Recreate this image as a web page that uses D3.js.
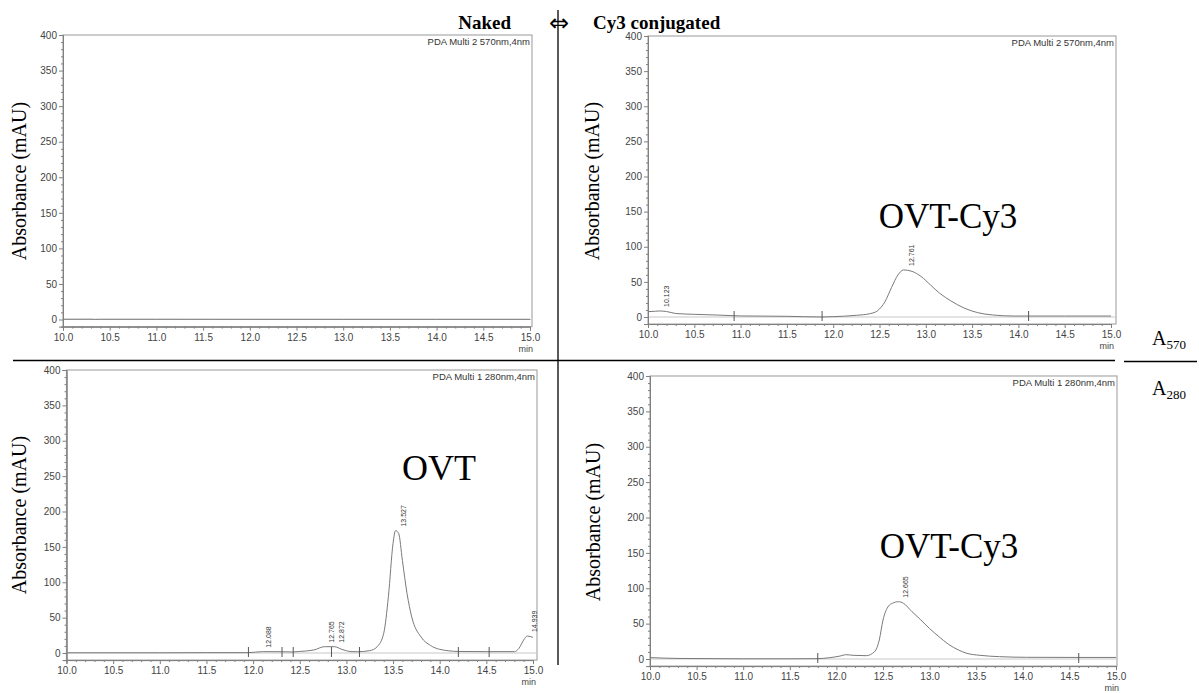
<!DOCTYPE html>
<html>
<head>
<meta charset="utf-8">
<script src="https://cdn.jsdelivr.net/npm/d3@7"></script>
<style>
  body { margin: 0; background: #fff; }
  svg { display: block; }
  .tick text { font-family: "Liberation Sans", Arial, sans-serif; font-size: 10px; fill: #444; }
  .serif { font-family: "Liberation Serif", "Times New Roman", serif; fill: #000; }
</style>
</head>
<body>
<svg id="chart" width="1199" height="693"></svg>
<script>
// tick values shared by all four chromatograms
const xTicks = [10.0, 10.5, 11.0, 11.5, 12.0, 12.5, 13.0, 13.5, 14.0, 14.5, 15.0];
const yTicks = [0, 50, 100, 150, 200, 250, 300, 350, 400];

// [retention time (min), absorbance (mAU)]
const naked570 = [[10.0, 0.4], [10.3, 0.5], [10.35, 0.2], [10.4, 0.4], [11.0, 0.4], [12.0, 0.3], [13.0, 0.3], [14.0, 0.3], [15.0, 0.3]];
const cy3_570 = [[10.0, 7.6], [10.08, 8.2], [10.12, 8.6], [10.2, 7.8], [10.3, 5.0], [10.5, 3.8], [10.75, 2.8], [11.0, 1.5],
  [11.5, 1.0], [11.88, 0.0], [12.0, 0.5], [12.25, 2.4], [12.4, 4.8], [12.48, 9], [12.56, 22], [12.63, 42], [12.7, 60],
  [12.76, 67], [12.85, 65], [12.95, 57.6], [13.05, 45.7], [13.15, 33.8], [13.27, 23], [13.42, 12.4], [13.56, 6.2],
  [13.72, 2.9], [13.95, 1.4], [14.11, 1.4], [14.5, 1.4], [15.0, 1.4]];
const naked280 = [[10.0, 0.3], [11.0, 0.3], [11.5, 0.5], [11.95, 0.5], [12.1, 1.9], [12.3, 1.8], [12.42, 1.5], [12.5, 2.2],
  [12.65, 4.2], [12.765, 8.9], [12.872, 8.9], [12.95, 5.2], [13.05, 2.0], [13.12, 1.8], [13.25, 3.3], [13.33, 8.9],
  [13.4, 27.8], [13.45, 79.6], [13.5, 155], [13.527, 173], [13.56, 169], [13.6, 131], [13.65, 84], [13.7, 51],
  [13.8, 22.6], [13.9, 10.8], [14.0, 5.2], [14.2, 2.2], [14.5, 1.9], [14.8, 1.9], [14.85, 6.6], [14.9, 18.4],
  [14.939, 24], [15.0, 22]];
const cy3_280 = [[10.0, 2.0], [10.3, 0.8], [11.0, 0.3], [11.5, 0.3], [11.8, 0.5], [11.93, 1.9], [12.04, 4.2], [12.1, 6.1],
  [12.18, 5.2], [12.32, 4.7], [12.41, 10.4], [12.46, 26.9], [12.5, 55], [12.56, 75], [12.6, 78.7], [12.665, 81],
  [12.72, 78.7], [12.81, 67], [12.9, 56], [13.0, 43], [13.1, 31.6], [13.2, 21], [13.31, 12.7], [13.4, 8], [13.54, 5.2],
  [13.75, 3.3], [14.04, 2.4], [14.6, 2.2], [15.0, 2.2]];

// labelled peaks [time, height] and integration marks (time)
const cy3_570Peaks = [[10.123, 8.6], [12.761, 67]];
const naked280Peaks = [[12.088, 1.9], [12.765, 8.9], [12.872, 8.9], [13.527, 173], [14.939, 24]];
const cy3_280Peaks = [[12.665, 81]];
const cy3_570Marks = [10.93, 11.88, 14.11];
const naked280Marks = [11.95, 12.31, 12.43, 12.84, 13.14, 14.2, 14.53];
const cy3_280Marks = [11.8, 14.6];

const svg = d3.select("#chart");

// panel layout in pixels
const panels = [
  { data: naked570, peaks: [], marks: [], pda: "PDA Multi 2 570nm,4nm",
    x0: 63, x1: 530, yTop: 35, yZero: 319.5, frameR: 532, ylabX: 26, ylabY: 181 },
  { data: cy3_570, peaks: cy3_570Peaks, marks: cy3_570Marks, pda: "PDA Multi 2 570nm,4nm",
    x0: 648, x1: 1111, yTop: 36, yZero: 317, frameR: 1116, ylabX: 599, ylabY: 181 },
  { data: naked280, peaks: naked280Peaks, marks: naked280Marks, pda: "PDA Multi 1 280nm,4nm",
    x0: 66.5, x1: 533, yTop: 370, yZero: 653, frameR: 537, ylabX: 26, ylabY: 515 },
  { data: cy3_280, peaks: cy3_280Peaks, marks: cy3_280Marks, pda: "PDA Multi 1 280nm,4nm",
    x0: 650, x1: 1116, yTop: 376, yZero: 659, frameR: 1117, ylabX: 600, ylabY: 522 }
];

panels.forEach(p => {
  const yBottom = p.yZero + (p.yZero - p.yTop) / 40;
  const x = d3.scaleLinear().domain([10, 15]).range([p.x0, p.x1]);
  const y = d3.scaleLinear().domain([-10, 400]).range([yBottom, p.yTop]);
  const g = svg.append("g");

  // plot frame
  g.append("rect")
    .attr("x", p.x0).attr("y", p.yTop)
    .attr("width", p.frameR - p.x0).attr("height", yBottom - p.yTop)
    .attr("fill", "none").attr("stroke", "#aaa").attr("stroke-width", 1.2);

  // zero baseline
  g.append("line")
    .attr("x1", p.x0).attr("x2", p.frameR)
    .attr("y1", y(0)).attr("y2", y(0))
    .attr("stroke", "#c8c8c8").attr("stroke-width", 1.2);

  // axes
  g.append("g").attr("transform", `translate(${p.x0},0)`)
    .call(d3.axisLeft(y).tickValues(yTicks).tickSize(4).tickPadding(2).tickFormat(d3.format("d")));
  g.append("g").attr("transform", `translate(${p.x0},0)`)
    .call(d3.axisLeft(y).tickValues(d3.range(-10, 400, 10).filter(v => v % 50 !== 0)).tickSize(2).tickFormat(""));
  g.append("g").attr("transform", `translate(0,${yBottom})`)
    .call(d3.axisBottom(x).tickValues(xTicks).tickSize(4).tickPadding(3).tickFormat(d3.format(".1f")));
  g.append("g").attr("transform", `translate(0,${yBottom})`)
    .call(d3.axisBottom(x).tickValues(d3.range(10.1, 15, 0.1).filter((v, i) => (i + 1) % 5 !== 0)).tickSize(2).tickFormat(""));
  g.selectAll(".domain, .tick line").attr("stroke", "#808080");

  g.append("text")
    .attr("x", p.x1 + 3).attr("y", yBottom + 25)
    .attr("text-anchor", "end")
    .style("font-family", "Liberation Sans, Arial, sans-serif").style("font-size", "9px").attr("fill", "#444")
    .text("min");

  g.append("text")
    .attr("x", p.frameR - 2).attr("y", p.yTop + 10)
    .attr("text-anchor", "end")
    .style("font-family", "Liberation Sans, Arial, sans-serif").style("font-size", "9.5px").attr("fill", "#333")
    .text(p.pda);

  // trace
  const line = d3.line().x(d => x(d[0])).y(d => y(d[1])).curve(d3.curveMonotoneX);
  g.append("path").datum(p.data)
    .attr("fill", "none").attr("stroke", "#7a7a7a").attr("stroke-width", 1)
    .attr("d", line);

  // integration marks
  g.selectAll(".mark").data(p.marks).enter().append("line")
    .attr("x1", d => x(d)).attr("x2", d => x(d))
    .attr("y1", y(0) + 4).attr("y2", y(0) - 6)
    .attr("stroke", "#555").attr("stroke-width", 1);

  // peak retention-time labels
  g.selectAll(".peak").data(p.peaks).enter().append("text")
    .attr("transform", d => `translate(${x(d[0]) + 10},${y(d[1]) - 4}) rotate(-90)`)
    .style("font-family", "Liberation Sans, Arial, sans-serif").style("font-size", "7px").attr("fill", "#333")
    .text(d => d[0].toFixed(3));

  // y axis title
  g.append("text").attr("class", "serif")
    .attr("transform", `translate(${p.ylabX},${p.ylabY}) rotate(-90)`)
    .attr("text-anchor", "middle").style("font-size", "20px")
    .text("Absorbance (mAU)");
});

// dividers
svg.append("line").attr("x1", 558).attr("x2", 558).attr("y1", 10).attr("y2", 665)
  .attr("stroke", "#000").attr("stroke-width", 1.3);
svg.append("line").attr("x1", 13).attr("x2", 1115).attr("y1", 360.5).attr("y2", 360.5)
  .attr("stroke", "#000").attr("stroke-width", 1.3);
svg.append("line").attr("x1", 1124).attr("x2", 1197).attr("y1", 361.5).attr("y2", 361.5)
  .attr("stroke", "#000").attr("stroke-width", 1.3);

// header
svg.append("text").attr("class", "serif").attr("x", 511).attr("y", 29).attr("text-anchor", "end")
  .style("font-size", "19px").style("font-weight", "bold").text("Naked");
svg.append("text").attr("x", 559).attr("y", 31).attr("text-anchor", "middle")
  .style("font-family", "DejaVu Sans, sans-serif").style("font-size", "24px").attr("fill", "#000").text("⇔");
svg.append("text").attr("class", "serif").attr("x", 593).attr("y", 29)
  .style("font-size", "19px").style("font-weight", "bold").text("Cy3 conjugated");

// sample annotations
svg.append("text").attr("class", "serif").attr("x", 948).attr("y", 228).attr("text-anchor", "middle")
  .style("font-size", "35px").text("OVT-Cy3");
svg.append("text").attr("class", "serif").attr("x", 439).attr("y", 480).attr("text-anchor", "middle")
  .style("font-size", "36px").text("OVT");
svg.append("text").attr("class", "serif").attr("x", 949).attr("y", 558).attr("text-anchor", "middle")
  .style("font-size", "35px").text("OVT-Cy3");

// wavelength row labels
const a570 = svg.append("text").attr("class", "serif").attr("x", 1152).attr("y", 345).style("font-size", "20px");
a570.append("tspan").text("A");
a570.append("tspan").attr("dy", 4).style("font-size", "13px").text("570");
const a280 = svg.append("text").attr("class", "serif").attr("x", 1152).attr("y", 395).style("font-size", "20px");
a280.append("tspan").text("A");
a280.append("tspan").attr("dy", 4).style("font-size", "13px").text("280");
</script>
</body>
</html>
